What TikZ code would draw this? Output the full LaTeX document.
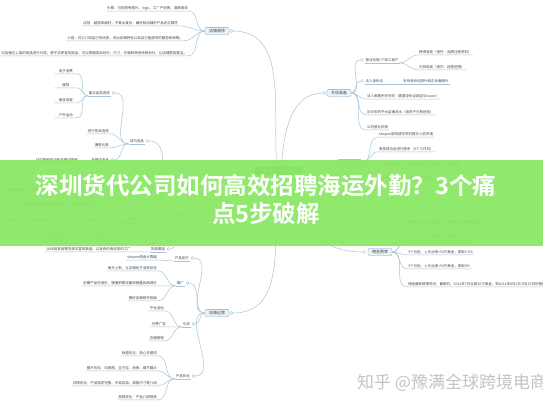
\documentclass[tikz,border=0pt]{standalone}
\usepackage{fontspec}
\usepackage{xcolor}
\usepackage{tikz}
\newfontfamily\cjk{Noto Sans CJK SC}
\newfontfamily\cjkbold{Noto Sans CJK SC Bold}

\definecolor{linkcol}{RGB}{168,196,214}
\definecolor{boxfill}{RGB}{234,243,250}
\definecolor{boxline}{RGB}{125,162,190}
\definecolor{txtcol}{RGB}{70,70,70}
\definecolor{bannercol}{RGB}{138,231,100}
\definecolor{centercol}{RGB}{92,190,72}
\definecolor{markcol}{RGB}{196,196,196}

\begin{document}
\begin{tikzpicture}[
x=1pt, y=1pt,
link line/.style = {draw=linkcol, line width=0.5pt},
topic box/.style = {draw=boxline, fill=boxfill, rounded corners=1pt, line width=0.4pt, text=txtcol,
  font=\cjk\fontsize{4}{5}\selectfont, inner xsep=4pt, inner ysep=1.6pt},
leaf text/.style = {text=txtcol, font=\cjk\fontsize{3.5}{4}\selectfont, inner xsep=1pt, inner ysep=1pt},
fold mark/.style = {circle, draw=boxline, fill=white, inner sep=0pt, minimum size=3pt, line width=0.3pt},
center box/.style = {fill=centercol, rounded corners=1pt, text=white, font=\cjk\fontsize{4}{5}\selectfont,
  minimum width=48pt, minimum height=9pt, inner sep=1pt},
title text/.style = {text=white, align=center, font=\cjkbold\fontsize{23.5}{28}\selectfont},
mark text/.style = {text=markcol, font=\cjk\fontsize{17}{20}\selectfont, inner sep=0pt}
]

\fill[white] (0,0) rectangle (543,-408);
\useasboundingbox (0,0) rectangle (543,-408);

\node (cn) at (279,-171) [center box] {Shopee跨境店铺};

\node (dz) at (217,-31) [topic box] {店铺装修};
\node (dzf) at (231.5,-31) [fold mark] {};
\node (dz1) at (189,-8) [leaf text, anchor=east] {头像：可用原有图片、logo、工厂产地等，清晰美观};
\node (dz2) at (179,-23) [leaf text, anchor=east] {店招：越简单越好，不要太复杂，最好和店铺的产品定位相符};
\node (dz3) at (184,-38) [leaf text, anchor=east] {介绍：可以介绍自己的优势，突出店铺特色以及自己能提供的服务和保障。};
\node (dz4) at (188,-53) [leaf text, anchor=east] {分类：对店铺已上架的商品进行分类，便于买家查找商品，可以根据类目划分，尺寸，价格和使用场景划分，让店铺更加整洁。};

\node (xp) at (184,-214) [leaf text, anchor=east] {选品};
\node (xpf) at (186.5,-214) [fold mark] {};

\node (zn) at (145,-141) [leaf text, anchor=east] {站内选品};
\node (znf) at (147.5,-141) [fold mark] {};
\node (zd) at (111,-93) [leaf text, anchor=east] {重点品类选择};
\node (zdf) at (113.5,-93) [fold mark] {};
\node (zd1) at (77,-71) [leaf text, anchor=east, minimum width=22pt] {电子消费};
\node (zd2) at (77,-85) [leaf text, anchor=east, minimum width=22pt] {服饰};
\node (zd3) at (77,-100) [leaf text, anchor=east, minimum width=22pt] {美妆母婴};
\node (zd4) at (77,-115) [leaf text, anchor=east, minimum width=22pt] {户外运动};
\node (zn2) at (110,-131) [leaf text, anchor=east] {同行热卖选择};
\node (zn3) at (110,-145) [leaf text, anchor=east] {爆款元素};
\node (zn4) at (110,-160) [leaf text, anchor=east] {关键词选品};
\node (zn4f) at (112.5,-160) [fold mark] {};
\node (zn41) at (79,-160) [leaf text, anchor=east] {站内搜索热词和关键词搜索};

\node (zw) at (140,-220) [leaf text, anchor=east] {站外选品};
\node (zwf) at (142.5,-220) [fold mark] {};
\node (zw1) at (72,-190) [leaf text, anchor=east] {跨境电商平台：亚马逊、速卖通、ebay等};
\node (zw2) at (94,-204) [leaf text, anchor=east] {1688按照爆款商品找同款货源，对比价格和质量};
\node (zw3) at (100,-220) [leaf text, anchor=east] {站外选品：lazada、tiki、Tokopedia、Q100、jumia、amz、ebay等};
\node (zw4) at (107,-235) [leaf text, anchor=east] {社交媒体选品：ins、facebook、tiktok等};

\node (hy) at (166,-249) [leaf text, anchor=east] {货源渠道};
\node (hyf) at (168.5,-249) [fold mark] {};
\node (hy1) at (132,-249) [leaf text, anchor=east] {1688批发商等货源丰富的渠道，以及有价格优势的工厂};

\node (dy) at (217,-313) [topic box] {店铺运营};
\node (dyf) at (231.5,-313) [fold mark] {};
\node (cp) at (190,-258) [leaf text, anchor=east] {产品定价};
\node (cpf) at (192.5,-258) [fold mark] {};
\node (cp1) at (158,-257) [leaf text, anchor=east] {shopee佣金计算器};
\node (tg) at (185,-283) [leaf text, anchor=east] {推广};
\node (tgf) at (187.5,-283) [fold mark] {};
\node (tg1) at (158,-268) [leaf text, anchor=east] {每天上新，让店铺处于活跃状态};
\node (tg2) at (158,-283) [leaf text, anchor=east] {前期产品先低价，慢慢积累流量和销量后再调价};
\node (tg3) at (158,-298) [leaf text, anchor=east] {做好店铺首页排版};
\node (yl) at (191,-324) [leaf text, anchor=east] {引流};
\node (ylf) at (193.5,-324) [fold mark] {};
\node (yl1) at (165,-308) [leaf text, anchor=east] {平台活动};
\node (yl2) at (167,-324) [leaf text, anchor=east] {付费广告};
\node (yl3) at (165,-338) [leaf text, anchor=east] {店铺营销};
\node (yh) at (191,-376) [leaf text, anchor=east] {产品优化};
\node (yhf) at (193.5,-376) [fold mark] {};
\node (yh1) at (158,-353) [leaf text, anchor=east] {标题优化：核心关键词};
\node (yh2) at (158,-368) [leaf text, anchor=east] {图片优化：白底图、全方位、场景、细节展示};
\node (yh3) at (158,-383) [leaf text, anchor=east] {详情优化：产品描述完整、中英双语、规格尺寸等介绍};
\node (yh4) at (158,-397) [leaf text, anchor=east] {视频优化：产品介绍视频};

\node (kd) at (339,-93) [topic box] {开店准备};
\node (kdf) at (324.5,-93) [fold mark] {};
\node (yzf) at (362,-60) [fold mark] {};
\node (yz) at (364.5,-60) [leaf text, anchor=west] {营业执照/个体工商户};
\node (yz1) at (418,-52) [leaf text, anchor=west] {跨境电商（境外：品牌注册资料）};
\node (yz2) at (418,-67) [leaf text, anchor=west] {内贸电商（境内：经营范围）};
\node (frf) at (362,-81) [fold mark] {};
\node (fr) at (364.5,-81) [leaf text, anchor=west] {法人身份证};
\node (fr1) at (402,-81) [leaf text, anchor=west] {手持身份证照片和正反面照片};
\node (kd2) at (366,-96) [leaf text, anchor=west] {法人邮箱手机号码（需要身份证绑定Shopee）};
\node (kd3) at (366,-112) [leaf text, anchor=west] {近半年的平台店铺流水（适用于已有经验）};
\node (kd4) at (366,-127) [leaf text, anchor=west] {公司营业执照};

\node (rzf) at (334,-163) [fold mark] {};
\node (rz) at (349.5,-163) [topic box] {入驻流程};
\node (rz1) at (378,-134) [leaf text, anchor=west] {shopee官网填写资料提交入驻申请};
\node (rz2) at (378,-149) [leaf text, anchor=west] {审核成功后进行联系（3个工作日）};
\node (rz3) at (378,-165) [leaf text, anchor=west] {完成开店前准备，完成后在平台进行操作，开店流程};
\node (rz4) at (378,-178) [leaf text, anchor=west] {资质审核完成后进行商品上传运营};

\node (yjf) at (364,-252) [fold mark] {};
\node (yj) at (380,-252) [topic box] {佣金费率};
\node (yj1) at (407,-222) [leaf text, anchor=west] {新店前三个月免佣金（之后按照平台规则收取）};
\node (yj2) at (407,-237) [leaf text, anchor=west] {3个月后，上月业绩<=10万美金，收取5\%};
\node (yj3) at (407,-252) [leaf text, anchor=west] {3个月后，上月业绩>50万美金，收取5.5\%};
\node (yj4) at (407,-266) [leaf text, anchor=west] {3个月后，上月业绩<50万美金，收取6\%};
\node (yj5) at (407,-284) [leaf text, anchor=west] {佣金最新政策时间：最新的，2021年7月业绩10万美金，到2021年8月1日-8月15日的佣金按照新政策收取};

\draw[link line] (cn.115) to[out=95,in=0] (dzf.east);
\draw[link line] (cn.245) to[out=-95,in=0] (dyf.east);
\draw[link line] (cn.65) to[out=85,in=180] (kdf.west);
\draw[link line] (cn.east) to[out=0,in=180] (rzf.west);
\draw[link line] (cn.295) to[out=-85,in=180] (yjf.west);
\draw[link line] (cn.west) to[out=180,in=0] (xpf.east);

\draw[link line] (dz.west) to[out=180,in=0] (dz1.south east) -- (dz1.south west);
\draw[link line] (dz.west) to[out=180,in=0] (dz2.south east) -- (dz2.south west);
\draw[link line] (dz.west) to[out=180,in=0] (dz3.south east) -- (dz3.south west);
\draw[link line] (dz.west) to[out=180,in=0] (dz4.south east) -- (dz4.south west);

\draw[link line] (xp.south east) -- (xp.south west);
\draw[link line] (xp.south west) to[out=180,in=0] (znf.east);
\draw[link line] (xp.south west) to[out=180,in=0] (zwf.east);
\draw[link line] (xp.south west) to[out=180,in=0] (hyf.east);

\draw[link line] (zn.south east) -- (zn.south west);
\draw[link line] (zn.south west) to[out=180,in=0] (zdf.east);
\draw[link line] (zn.south west) to[out=180,in=0] (zn2.south east) -- (zn2.south west);
\draw[link line] (zn.south west) to[out=180,in=0] (zn3.south east) -- (zn3.south west);
\draw[link line] (zn.south west) to[out=180,in=0] (zn4f.east);
\draw[link line] (zn4.south east) -- (zn4.south west);
\draw[link line] (zn4.south west) to[out=180,in=0] (zn41.south east) -- (zn41.south west);

\draw[link line] (zd.south east) -- (zd.south west);
\draw[link line] (zd.south west) to[out=180,in=0] (zd1.south east) -- (zd1.south west);
\draw[link line] (zd.south west) to[out=180,in=0] (zd2.south east) -- (zd2.south west);
\draw[link line] (zd.south west) to[out=180,in=0] (zd3.south east) -- (zd3.south west);
\draw[link line] (zd.south west) to[out=180,in=0] (zd4.south east) -- (zd4.south west);

\draw[link line] (zw.south east) -- (zw.south west);
\draw[link line] (zw.south west) to[out=180,in=0] (zw1.south east) -- (zw1.south west);
\draw[link line] (zw.south west) to[out=180,in=0] (zw2.south east) -- (zw2.south west);
\draw[link line] (zw.south west) to[out=180,in=0] (zw3.south east) -- (zw3.south west);
\draw[link line] (zw.south west) to[out=180,in=0] (zw4.south east) -- (zw4.south west);

\draw[link line] (hy.south east) -- (hy.south west);
\draw[link line] (hy.south west) to[out=180,in=0] (hy1.south east) -- (hy1.south west);

\draw[link line] (dy.west) to[out=180,in=0] (cpf.east);
\draw[link line] (dy.west) to[out=180,in=0] (tgf.east);
\draw[link line] (dy.west) to[out=180,in=0] (ylf.east);
\draw[link line] (dy.west) to[out=180,in=0] (yhf.east);

\draw[link line] (cp.south east) -- (cp.south west);
\draw[link line] (cp.south west) to[out=180,in=0] (cp1.south east) -- (cp1.south west);

\draw[link line] (tg.south east) -- (tg.south west);
\draw[link line] (tg.south west) to[out=180,in=0] (tg1.south east) -- (tg1.south west);
\draw[link line] (tg.south west) to[out=180,in=0] (tg2.south east) -- (tg2.south west);
\draw[link line] (tg.south west) to[out=180,in=0] (tg3.south east) -- (tg3.south west);

\draw[link line] (yl.south east) -- (yl.south west);
\draw[link line] (yl.south west) to[out=180,in=0] (yl1.south east) -- (yl1.south west);
\draw[link line] (yl.south west) to[out=180,in=0] (yl2.south east) -- (yl2.south west);
\draw[link line] (yl.south west) to[out=180,in=0] (yl3.south east) -- (yl3.south west);

\draw[link line] (yh.south east) -- (yh.south west);
\draw[link line] (yh.south west) to[out=180,in=0] (yh1.south east) -- (yh1.south west);
\draw[link line] (yh.south west) to[out=180,in=0] (yh2.south east) -- (yh2.south west);
\draw[link line] (yh.south west) to[out=180,in=0] (yh3.south east) -- (yh3.south west);
\draw[link line] (yh.south west) to[out=180,in=0] (yh4.south east) -- (yh4.south west);

\draw[link line] (kd.east) to[out=0,in=180] (yzf.west);
\draw[link line] (kd.east) to[out=0,in=180] (frf.west);
\draw[link line] (kd.east) to[out=0,in=180] (kd2.south west) -- (kd2.south east);
\draw[link line] (kd.east) to[out=0,in=180] (kd3.south west) -- (kd3.south east);
\draw[link line] (kd.east) to[out=0,in=180] (kd4.south west) -- (kd4.south east);

\draw[link line] (yz.south west) -- (yz.south east);
\draw[link line] (yz.south east) to[out=0,in=180] (yz1.south west) -- (yz1.south east);
\draw[link line] (yz.south east) to[out=0,in=180] (yz2.south west) -- (yz2.south east);
\draw[link line] (fr.south west) -- (fr.south east);
\draw[link line] (fr.south east) to[out=0,in=180] (fr1.south west) -- (fr1.south east);

\draw[link line] (rz.east) to[out=0,in=180] (rz1.south west) -- (rz1.south east);
\draw[link line] (rz.east) to[out=0,in=180] (rz2.south west) -- (rz2.south east);
\draw[link line] (rz.east) to[out=0,in=180] (rz3.south west) -- (rz3.south east);
\draw[link line] (rz.east) to[out=0,in=180] (rz4.south west) -- (rz4.south east);

\draw[link line] (yj.east) to[out=0,in=180] (yj1.south west) -- (yj1.south east);
\draw[link line] (yj.east) to[out=0,in=180] (yj2.south west) -- (yj2.south east);
\draw[link line] (yj.east) to[out=0,in=180] (yj3.south west) -- (yj3.south east);
\draw[link line] (yj.east) to[out=0,in=180] (yj4.south west) -- (yj4.south east);
\draw[link line] (yj.east) to[out=0,in=180] (yj5.south west) -- (yj5.south east);

\fill[bannercol, fill opacity=0.94] (0,-160) rectangle (543,-246);
\node (tt) at (266,-199) [title text] {深圳货代公司如何高效招聘海运外勤？3个痛\\点5步破解};

\node (wm) at (357,-383) [mark text, anchor=west] {知乎 @豫满全球跨境电商};
\end{tikzpicture}
\end{document}
